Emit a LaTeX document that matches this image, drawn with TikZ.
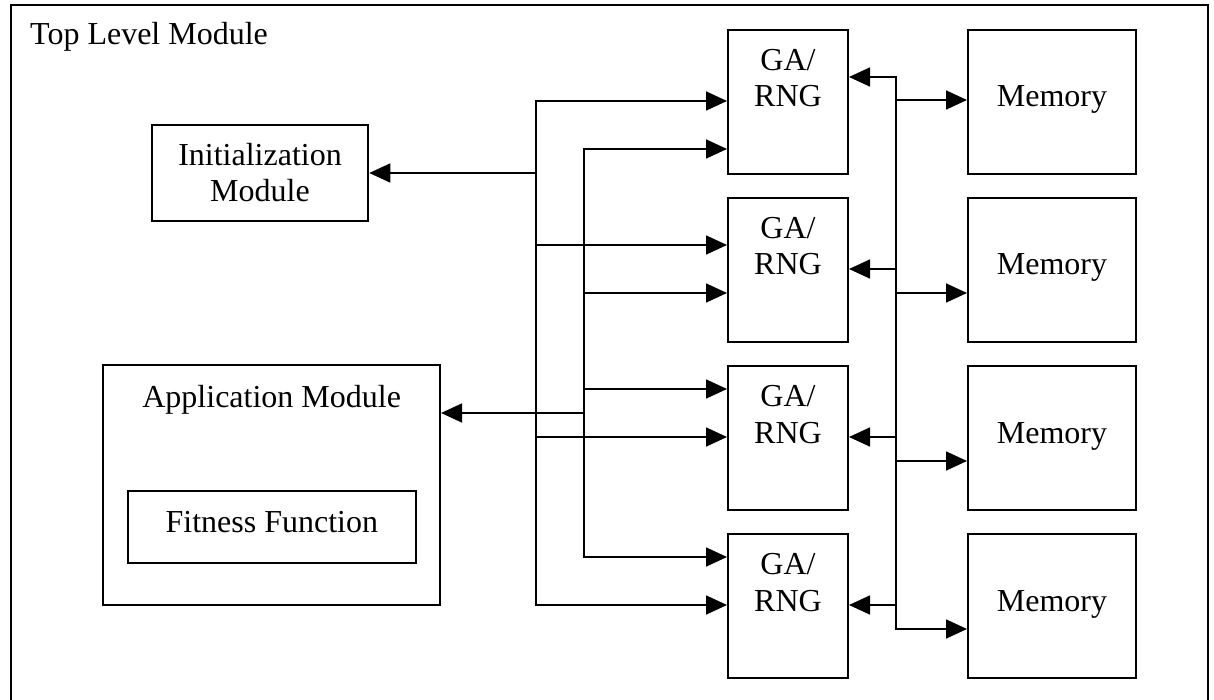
\documentclass[tikz,border=0pt]{standalone}
\usepackage{fontspec}
\setmainfont{Liberation Serif}
\usetikzlibrary{arrows.meta}
\begin{document}
\begin{tikzpicture}[x=1pt,y=-1pt,
  box/.style={draw=black, line width=2pt, rectangle, inner sep=0pt, fill=white},
  txt/.style={inner sep=0pt, align=center, font=\fontsize{32}{36.5}\selectfont},
  conn/.style={line width=1.7pt, line join=miter},
  tip/.style={-{Triangle[length=21pt,width=19pt]}},
  tips/.style={{Triangle[length=21pt,width=19pt]}-{Triangle[length=21pt,width=19pt]}}]
\useasboundingbox (0,0) rectangle (1214,700);
\clip (0,0) rectangle (1214,700);
\fill[white] (0,0) rectangle (1214,700);
% outer frame
\draw[line width=2pt] (11,5) rectangle (1208,740);
\node[txt, anchor=base west] (title) at (30,45) {Top Level Module};
% left modules
\node[box, minimum width=216.6pt, minimum height=96pt] (init) at (260,173) {};
\node[txt, anchor=base] (initt) at (260,202) {Initialization\\Module};
\node[box, minimum width=336.7pt, minimum height=240pt] (app) at (271.7,485) {};
\node[txt, anchor=base] (appt) at (271.7,407) {Application Module};
\node[box, minimum width=288.3pt, minimum height=72.3pt] (fit) at (271.85,527.2) {};
\node[txt, anchor=base] (fitt) at (271.85,532) {Fitness Function};
% GA/RNG and Memory
\foreach \i/\t in {1/29,2/197,3/365,4/533}{
  \node[box, minimum width=120pt, minimum height=144pt, anchor=north] (ga\i) at (788,\t) {};
  \node[txt, anchor=base] (ga\i t) at (788,\t+78) {GA/\\RNG};
  \node[box, minimum width=168pt, minimum height=144pt, anchor=north] (mem\i) at (1052,\t) {};
  \node[txt, anchor=base] (mem\i t) at (1052,\t+78) {Memory};
}
% bus A
\coordinate (A1) at (536,101);
\coordinate (A5) at (536,605);
\coordinate (A0) at (536,173);
\coordinate (A2) at (536,245);
\coordinate (A3) at (536,437);
\draw[conn,tips] (A1 -| ga1.west) -- (A1) -- (A5) -- (A5 -| ga4.west);
\draw[conn,tip] (A0) -- (A0 -| init.east);
\draw[conn,tip] (A2) -- (A2 -| ga2.west);
\draw[conn,tip] (A3) -- (A3 -| ga3.west);
% bus B
\coordinate (B1) at (583.7,149);
\coordinate (B5) at (583.7,557);
\coordinate (B2) at (583.7,293);
\coordinate (B3) at (583.7,389);
\coordinate (B0) at (583.7,413);
\draw[conn,tips] (B1 -| ga1.west) -- (B1) -- (B5) -- (B5 -| ga4.west);
\draw[conn,tip] (B2) -- (B2 -| ga2.west);
\draw[conn,tip] (B3) -- (B3 -| ga3.west);
\draw[conn,tip] (B0) -- (B0 -| app.east);
% bus R
\coordinate (R1) at (896,77);
\coordinate (R9) at (896,629);
\coordinate (R2) at (896,269);
\coordinate (R3) at (896,437);
\coordinate (R4) at (896,605);
\coordinate (M1) at (896,100);
\coordinate (M2) at (896,293);
\coordinate (M3) at (896,461);
\draw[conn,tips] (R1 -| ga1.east) -- (R1) -- (R9) -- (R9 -| mem4.west);
\draw[conn,tip] (R2) -- (R2 -| ga2.east);
\draw[conn,tip] (R3) -- (R3 -| ga3.east);
\draw[conn,tip] (R4) -- (R4 -| ga4.east);
\draw[conn,tip] (M1) -- (M1 -| mem1.west);
\draw[conn,tip] (M2) -- (M2 -| mem2.west);
\draw[conn,tip] (M3) -- (M3 -| mem3.west);
\end{tikzpicture}
\end{document}
